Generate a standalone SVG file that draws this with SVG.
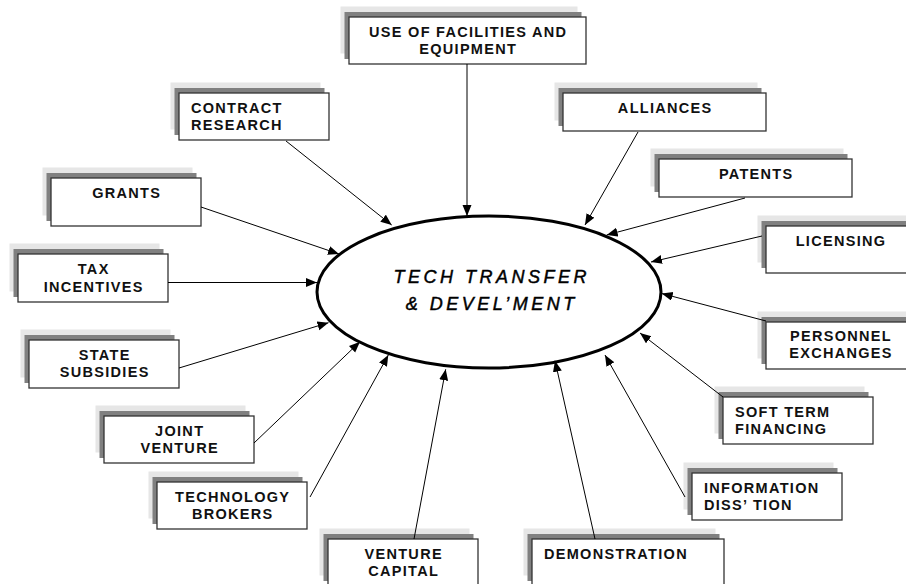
<svg xmlns="http://www.w3.org/2000/svg" width="906" height="584" viewBox="0 0 906 584">
<defs>
<style>
.l{fill:#e6e6e6}
.d{fill:#808080}
.b{fill:#fff;stroke:#333;stroke-width:1.3}
.t{font-family:"Liberation Sans",Arial,sans-serif;font-weight:bold;font-size:14.5px;letter-spacing:1.3px;fill:#111}
.c{text-anchor:middle}
.e{fill:#fff;stroke:#000;stroke-width:3}
.et{font-family:"Liberation Sans",Arial,sans-serif;font-style:italic;font-size:18px;letter-spacing:3.5px;fill:#000;stroke:#000;stroke-width:0.45;text-anchor:middle}
.cn line{stroke:#000;stroke-width:1;marker-end:url(#ah)}
</style>
<marker id="ah" markerUnits="userSpaceOnUse" markerWidth="12" markerHeight="10" refX="11" refY="4.5" orient="auto">
<path d="M0,0 L11,4.5 L0,9 z" fill="#000"/>
</marker>
</defs>
<rect width="906" height="584" fill="#fff"/>

<g id="center">
<ellipse class="e" cx="489" cy="292" rx="172" ry="76"/>
<text class="et" x="491.7" y="283">TECH TRANSFER</text>
<text class="et" x="491.7" y="310">&amp; DEVEL’MENT</text>
</g>

<g id="n-use">
<rect class="l" x="340.5" y="6.5" width="237" height="47"/>
<rect class="d" x="344.5" y="12" width="237" height="47"/>
<rect class="b" x="349" y="17" width="237" height="47"/>
<text class="t c" x="468.2" y="37">USE OF FACILITIES AND</text>
<text class="t c" x="468.2" y="54">EQUIPMENT</text>
</g>

<g id="n-contract">
<rect class="l" x="170.5" y="82.5" width="150" height="47"/>
<rect class="d" x="174.5" y="88" width="150" height="47"/>
<rect class="b" x="179" y="93" width="150" height="47"/>
<text class="t" x="191" y="113">CONTRACT</text>
<text class="t" x="191" y="130">RESEARCH</text>
</g>

<g id="n-alliances">
<rect class="l" x="554.5" y="82.5" width="203" height="38"/>
<rect class="d" x="558.5" y="88" width="203" height="38"/>
<rect class="b" x="563" y="93" width="203" height="38"/>
<text class="t c" x="665.2" y="112.7">ALLIANCES</text>
</g>

<g id="n-patents">
<rect class="l" x="650.5" y="148.5" width="193" height="38"/>
<rect class="d" x="654.5" y="154" width="193" height="38"/>
<rect class="b" x="659" y="159" width="193" height="38"/>
<text class="t c" x="756.2" y="179">PATENTS</text>
</g>

<g id="n-grants">
<rect class="l" x="42.5" y="167.5" width="150" height="48"/>
<rect class="d" x="46.5" y="173" width="150" height="48"/>
<rect class="b" x="51" y="178" width="150" height="48"/>
<text class="t c" x="126.7" y="198">GRANTS</text>
</g>

<g id="n-tax">
<rect class="l" x="9.5" y="243.5" width="150" height="48"/>
<rect class="d" x="13.5" y="249" width="150" height="48"/>
<rect class="b" x="18" y="254" width="150" height="48"/>
<text class="t c" x="93.7" y="274">TAX</text>
<text class="t c" x="93.7" y="291.5">INCENTIVES</text>
</g>

<g id="n-licensing">
<rect class="l" x="757.5" y="215.5" width="150" height="47"/>
<rect class="d" x="761.5" y="221" width="150" height="47"/>
<rect class="b" x="766" y="226" width="150" height="47"/>
<text class="t c" x="841" y="246">LICENSING</text>
</g>

<g id="n-personnel">
<rect class="l" x="757.5" y="311.5" width="150" height="47"/>
<rect class="d" x="761.5" y="317" width="150" height="47"/>
<rect class="b" x="766" y="322" width="150" height="47"/>
<text class="t c" x="841" y="341">PERSONNEL</text>
<text class="t c" x="841" y="358">EXCHANGES</text>
</g>

<g id="n-state">
<rect class="l" x="20.5" y="329.5" width="150" height="48"/>
<rect class="d" x="24.5" y="335" width="150" height="48"/>
<rect class="b" x="29" y="340" width="150" height="48"/>
<text class="t c" x="104.7" y="360">STATE</text>
<text class="t c" x="104.7" y="377">SUBSIDIES</text>
</g>

<g id="n-soft">
<rect class="l" x="714.5" y="386.5" width="150" height="47"/>
<rect class="d" x="718.5" y="392" width="150" height="47"/>
<rect class="b" x="723" y="397" width="150" height="47"/>
<text class="t" x="735" y="417">SOFT TERM</text>
<text class="t" x="735" y="434">FINANCING</text>
</g>

<g id="n-joint">
<rect class="l" x="95.5" y="405.5" width="150" height="47"/>
<rect class="d" x="99.5" y="411" width="150" height="47"/>
<rect class="b" x="104" y="416" width="150" height="47"/>
<text class="t c" x="179.7" y="435.5">JOINT</text>
<text class="t c" x="179.7" y="452.5">VENTURE</text>
</g>

<g id="n-information">
<rect class="l" x="683.5" y="462.5" width="150" height="47"/>
<rect class="d" x="687.5" y="468" width="150" height="47"/>
<rect class="b" x="692" y="473" width="150" height="47"/>
<text class="t" x="704" y="492.5">INFORMATION</text>
<text class="t" x="704" y="509.5">DISS’ TION</text>
</g>

<g id="n-technology">
<rect class="l" x="148.5" y="471.5" width="150" height="47"/>
<rect class="d" x="152.5" y="477" width="150" height="47"/>
<rect class="b" x="157" y="482" width="150" height="47"/>
<text class="t c" x="232.7" y="502">TECHNOLOGY</text>
<text class="t c" x="232.7" y="519">BROKERS</text>
</g>

<g id="n-venture">
<rect class="l" x="319.5" y="528.5" width="150" height="47"/>
<rect class="d" x="323.5" y="534" width="150" height="47"/>
<rect class="b" x="328" y="539" width="150" height="47"/>
<text class="t c" x="403.7" y="559">VENTURE</text>
<text class="t c" x="403.7" y="576">CAPITAL</text>
</g>

<g id="n-demonstration">
<rect class="l" x="523.5" y="528.5" width="192" height="47"/>
<rect class="d" x="527.5" y="534" width="192" height="47"/>
<rect class="b" x="532" y="539" width="192" height="47"/>
<text class="t" x="544" y="559">DEMONSTRATION</text>
</g>

<g id="connectors" class="cn">
<line x1="467" y1="64" x2="467" y2="216"/>
<line x1="286" y1="141" x2="391.7" y2="225"/>
<line x1="638" y1="132" x2="585" y2="225"/>
<line x1="745" y1="198" x2="606.7" y2="235"/>
<line x1="201" y1="207" x2="339" y2="254"/>
<line x1="168" y1="282.5" x2="317" y2="282.5"/>
<line x1="762" y1="236" x2="651" y2="262"/>
<line x1="766" y1="321" x2="661.7" y2="293.5"/>
<line x1="179" y1="368" x2="328.5" y2="322.7"/>
<line x1="723" y1="397" x2="640" y2="333"/>
<line x1="254" y1="443" x2="360" y2="341.7"/>
<line x1="685" y1="497" x2="605" y2="355"/>
<line x1="310" y1="497" x2="388.3" y2="355"/>
<line x1="414" y1="539" x2="445.7" y2="369.3"/>
<line x1="595" y1="539" x2="555" y2="360.7"/>
</g>
</svg>
